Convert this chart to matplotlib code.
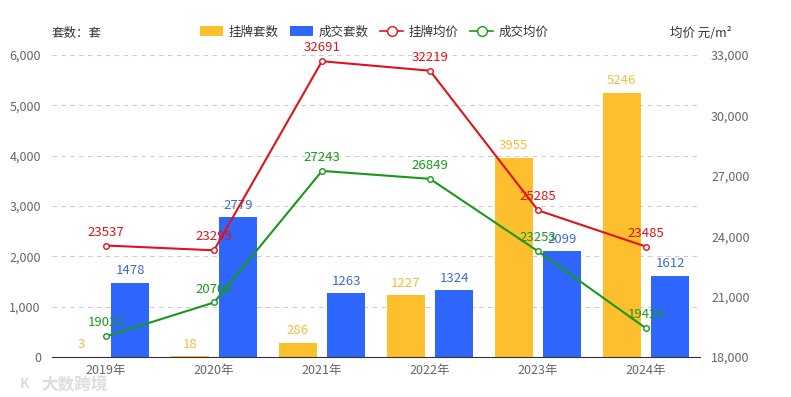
import matplotlib
matplotlib.use("Agg")
import matplotlib.pyplot as plt
import numpy as np
from matplotlib.patches import Patch
from matplotlib.lines import Line2D

plt.rcParams['font.family'] = ['Noto Sans CJK SC', 'DejaVu Sans']

years = ['2019年', '2020年', '2021年', '2022年', '2023年', '2024年']
listed_cnt = [3, 18, 286, 1227, 3955, 5246]
deal_cnt = [1478, 2779, 1263, 1324, 2099, 1612]
listed_price = [23537, 23299, 32691, 32219, 25285, 23485]
deal_price = [19022, 20708, 27243, 26849, 23253, 19424]

YELLOW = '#fdbf2d'
BLUE = '#2f66fe'
RED = '#e0131b'
GREEN = '#189a18'
GRAY = '#666666'

fig = plt.figure(figsize=(7.91, 3.97), dpi=100)
ax = fig.add_axes([52 / 791, 40 / 397, 648 / 791, 302 / 397])
ax2 = ax.twinx()

x = np.arange(len(years))
w = 0.355
off = 0.225
ax.bar(x - off, listed_cnt, w, color=YELLOW, zorder=2)
ax.bar(x + off, deal_cnt, w, color=BLUE, zorder=2)
for i in range(len(years)):
    ax.annotate(str(listed_cnt[i]), (x[i] - off, listed_cnt[i]), xytext=(0, 4),
                textcoords='offset points', ha='center', va='bottom', color='#f5bd3c', fontsize=9.5)
    ax.annotate(str(deal_cnt[i]), (x[i] + off, deal_cnt[i]), xytext=(0, 4),
                textcoords='offset points', ha='center', va='bottom', color='#3a6ad6', fontsize=9.5)

ax.set_xlim(-0.5, len(years) - 0.5)
ax.set_ylim(0, 6000)
ax.set_yticks(range(0, 6001, 1000))
ax.set_yticklabels(['{:,}'.format(v) for v in range(0, 6001, 1000)])
ax.set_xticks(x)
ax.set_xticklabels(years)
ax.grid(axis='y', linestyle=(0, (4, 4)), color='#cccccc', linewidth=0.8, zorder=0)
ax.set_axisbelow(True)
for s in ['left', 'right', 'top']:
    ax.spines[s].set_visible(False)
ax.spines['bottom'].set_color('#333333')
ax.tick_params(axis='both', length=0, colors=GRAY, labelsize=9)
ax.tick_params(axis='y', pad=8)
ax.tick_params(axis='x', pad=5)

ax2.plot(x, listed_price, color=RED, lw=1.5, marker='o', ms=4, mfc='white', mec=RED, mew=1, zorder=3)
ax2.plot(x, deal_price, color=GREEN, lw=1.5, marker='o', ms=4, mfc='white', mec=GREEN, mew=1, zorder=3)
for i in range(len(years)):
    ax2.annotate(str(listed_price[i]), (x[i], listed_price[i]), xytext=(0, 5),
                 textcoords='offset points', ha='center', va='bottom', color=RED, fontsize=9.5)
    ax2.annotate(str(deal_price[i]), (x[i], deal_price[i]), xytext=(0, 5),
                 textcoords='offset points', ha='center', va='bottom', color=GREEN, fontsize=9.5)
ax2.set_ylim(18000, 33000)
ax2.set_yticks(range(18000, 33001, 3000))
ax2.set_yticklabels(['{:,}'.format(v) for v in range(18000, 33001, 3000)])
for s in ['left', 'right', 'top', 'bottom']:
    ax2.spines[s].set_visible(False)
ax2.tick_params(axis='y', length=0, colors=GRAY, labelsize=9, pad=8)

fig.text(52 / 791, 1 - 33 / 397, '套数：套', fontsize=9, color='#333333', va='center', ha='left')
fig.text(670 / 791, 1 - 33 / 397, '均价 元/m²', fontsize=9, color='#333333', va='center', ha='left')

handles = [
    Patch(facecolor=YELLOW, edgecolor='none'),
    Patch(facecolor=BLUE, edgecolor='none'),
    Line2D([], [], color=RED, lw=1.2, marker='o', ms=7, mfc='white', mec=RED),
    Line2D([], [], color=GREEN, lw=1.2, marker='o', ms=7, mfc='white', mec=GREEN),
]
labels = ['挂牌套数', '成交套数', '挂牌均价', '成交均价']
leg = fig.legend(handles, labels, ncol=4, loc='center', bbox_to_anchor=(374 / 791, 1 - 32 / 397),
                 frameon=False, fontsize=9, handlelength=1.9, handleheight=0.9,
                 columnspacing=0.9, handletextpad=0.4, labelcolor='#333333')

# watermark
fig.text(20 / 791, 1 - 384 / 397, 'K', fontsize=10, color='#dddddd', va='center', ha='left',
         fontweight='bold')
fig.text(41 / 791, 1 - 384 / 397, '大数跨境', fontsize=12, color='#dddddd', va='center', ha='left',
         fontweight='bold')

fig.savefig('out.png', dpi=100)
